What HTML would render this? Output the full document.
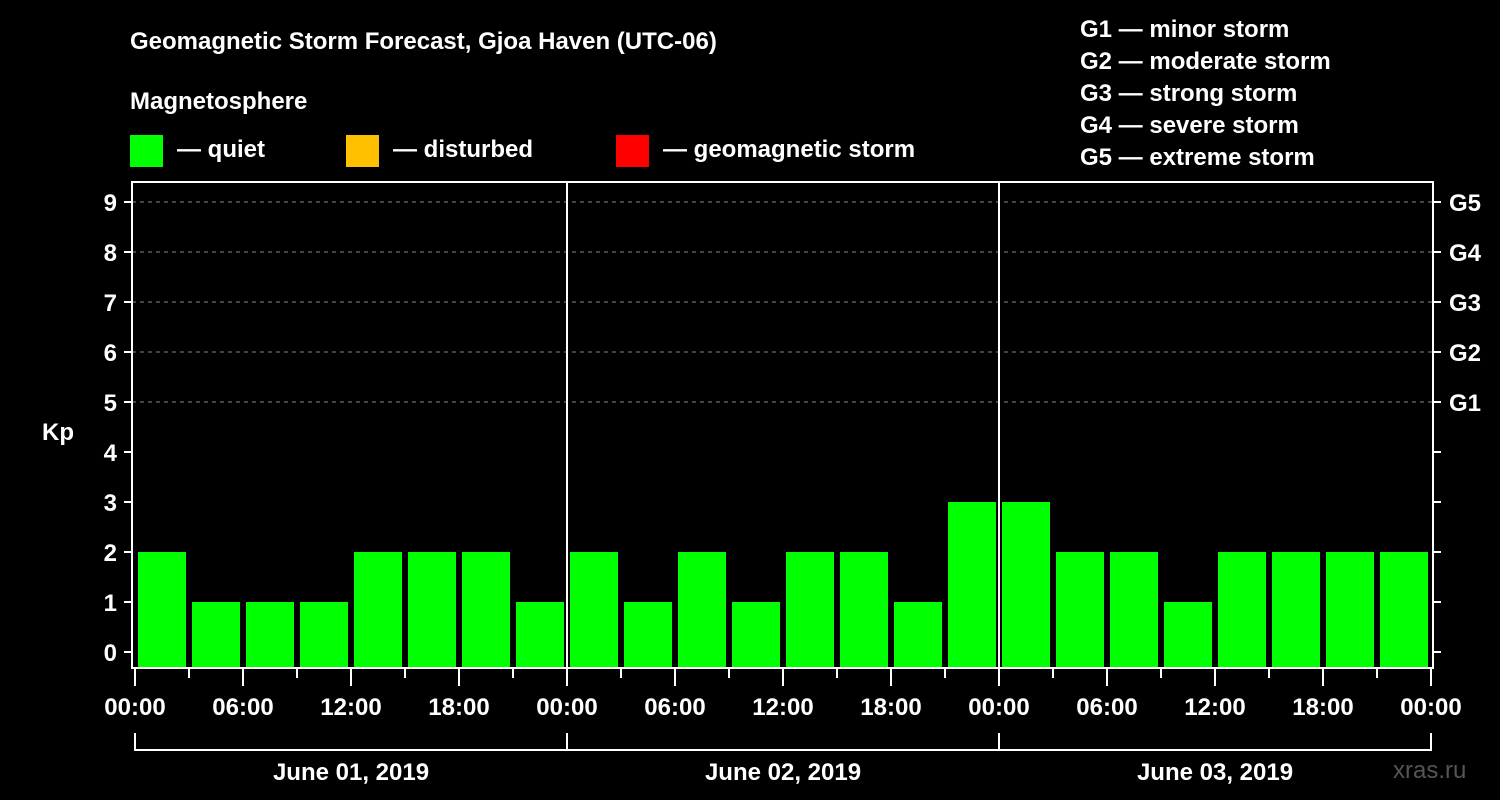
<!DOCTYPE html>
<html><head><meta charset="utf-8"><style>
html,body{margin:0;padding:0;background:#000;width:1500px;height:800px;overflow:hidden}
svg{display:block;font-family:"Liberation Sans",Arial,sans-serif;font-weight:bold}
</style></head><body>
<svg id="c" width="1500" height="800">
<text x="130" y="49" fill="#fff" font-size="24">Geomagnetic Storm Forecast, Gjoa Haven (UTC-06)</text>
<text x="130" y="109" fill="#fff" font-size="24">Magnetosphere</text>
<g>
<rect x="130" y="135" width="33" height="32" fill="#00ff00"/>
<text x="177" y="157" fill="#fff" font-size="24">— quiet</text>
<rect x="346" y="135" width="33" height="32" fill="#ffc000"/>
<text x="393" y="157" fill="#fff" font-size="24">— disturbed</text>
<rect x="616" y="135" width="33" height="32" fill="#ff0000"/>
<text x="663" y="157" fill="#fff" font-size="24">— geomagnetic storm</text>
</g>
<g fill="#fff" font-size="24">
<text x="1080" y="37">G1 — minor storm</text>
<text x="1080" y="69">G2 — moderate storm</text>
<text x="1080" y="101">G3 — strong storm</text>
<text x="1080" y="133">G4 — severe storm</text>
<text x="1080" y="165">G5 — extreme storm</text>
</g>
<text x="42" y="440" fill="#fff" font-size="24">Kp</text>
<text x="1393" y="778" fill="#555" font-size="24" font-weight="normal">xras.ru</text>
<g id="grid"></g><g id="bars"></g><g id="axes"></g>
</svg>
<script>
const kpValues=[2,1,1,1,2,2,2,1, 2,1,2,1,2,2,1,3, 3,2,2,1,2,2,2,2];
const dayLabels=["June 01, 2019","June 02, 2019","June 03, 2019"];
const yTicks=[0,1,2,3,4,5,6,7,8,9];
const gLabels=["G1","G2","G3","G4","G5"];
const timeLabels=["00:00","06:00","12:00","18:00"];
const NS="http://www.w3.org/2000/svg";
const L=132,R=1433,T=182,B=668,X0=135,SLOT=54;
const y=v=>652-50*v;
const x=i=>X0+SLOT*i;
function mk(parent,tag,attrs){const e=document.createElementNS(NS,tag);for(const k in attrs)e.setAttribute(k,attrs[k]);document.getElementById(parent).appendChild(e);return e;}
yTicks.forEach(v=>{
 if(v>=5){const g=mk('grid','line',{x1:L,x2:R,y1:y(v),y2:y(v),stroke:'#888','stroke-dasharray':'4,4','stroke-width':1});
 
 }
 const t=mk('axes','line',{x1:124,x2:L,y1:y(v),y2:y(v),stroke:'#fff','stroke-width':2});
 
 
 const t2=mk('axes','line',{x1:R,x2:R+8,y1:y(v),y2:y(v),stroke:'#fff','stroke-width':2});
 
 
 const lb=mk('axes','text',{x:117,y:y(v)+9,fill:'#fff','font-size':24,'text-anchor':'end'});lb.textContent=v;
 
 
});
gLabels.forEach((g,i)=>{const lb=mk('axes','text',{x:1449,y:y(5+i)+9,fill:'#fff','font-size':24});lb.textContent=g;
 
 });
kpValues.forEach((v,i)=>{const c=v>=5?'#ff0000':(v>=4?'#ffc000':'#00ff00');
 const b=mk('bars','rect',{x:x(i)+3,y:y(v),width:SLOT-6,height:667-y(v),fill:c});
 
 });
const fr=mk('axes','rect',{x:L,y:T,width:R-L,height:B-T,fill:'none',stroke:'#fff','stroke-width':2});


for(let d=1;d<dayLabels.length;d++){const l=mk('axes','line',{x1:x(8*d),x2:x(8*d),y1:T,y2:B,stroke:'#fff','stroke-width':2});
 
 }
for(let i=0;i<=kpValues.length;i++){const major=i%2===0;
 const t=mk('axes','line',{x1:x(i),x2:x(i),y1:B,y2:major?686:678,stroke:'#fff','stroke-width':2});
 
 
 if(major){const lb=mk('axes','text',{x:x(i),y:715,fill:'#fff','font-size':24,'text-anchor':'middle'});lb.textContent=timeLabels[(i/2)%4];
 
 }}
dayLabels.forEach((d,k)=>{const a=x(8*k),b=x(8*k+8);
 const p=mk('axes','path',{d:`M${a},733V750H${b}V733`,fill:'none',stroke:'#fff','stroke-width':2});
 
 
 const lb=mk('axes','text',{x:(a+b)/2,y:780,fill:'#fff','font-size':24,'text-anchor':'middle'});lb.textContent=d;
 
 });
</script>
</body></html>
